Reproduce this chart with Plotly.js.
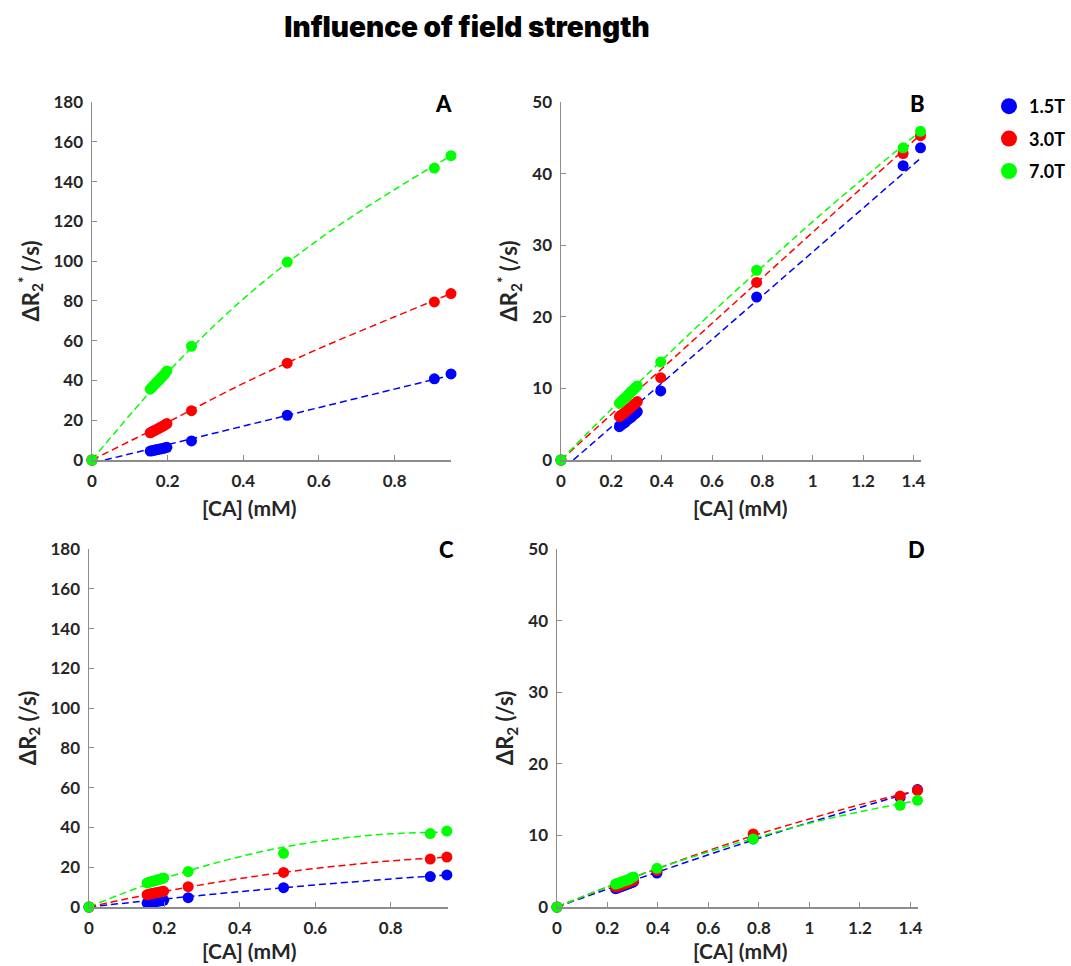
<!DOCTYPE html>
<html>
<head>
<meta charset="utf-8">
<script src="https://cdn.plot.ly/plotly-3.0.1.min.js"></script>
<style>html,body{margin:0;padding:0;background:#fff;}#chart{width:1071px;height:966px;}</style>
</head>
<body>
<div id="chart"></div>
<script>
// ---- data ----
const seriesNames = ['1.5T', '3.0T', '7.0T'];
const seriesColors = ['#0000ff', '#ff0000', '#00ff00'];

// concentrations, panels A and C
const caAC = [0, 0.154, 0.159, 0.164, 0.169, 0.174, 0.179, 0.184, 0.189, 0.194, 0.198, 0.263, 0.516, 0.905, 0.949];
// concentrations, panels B and D
const caBD = [0, 0.232, 0.240, 0.248, 0.256, 0.264, 0.272, 0.280, 0.288, 0.296, 0.303, 0.396, 0.777, 1.359, 1.428];

// Panel A : dR2* (/s)
const A_15 = [0, 4.5, 4.7, 4.9, 5.1, 5.3, 5.5, 5.7, 5.9, 6.2, 6.4, 9.6, 22.5, 40.8, 43.3];
const A_30 = [0, 13.7, 14.2, 14.7, 15.2, 15.7, 16.2, 16.7, 17.2, 17.8, 18.3, 24.8, 48.7, 79.5, 83.7];
const A_70 = [0, 35.6, 36.6, 37.6, 38.6, 39.6, 40.6, 41.6, 42.6, 43.7, 44.8, 57.2, 99.5, 146.8, 153.0];
// Panel B : dR2* (/s)
const B_15 = [0, 4.66, 4.9, 5.1, 5.3, 5.6, 5.8, 6.0, 6.3, 6.5, 6.76, 9.65, 22.75, 41.1, 43.6];
const B_30 = [0, 6.06, 6.3, 6.5, 6.7, 7.0, 7.2, 7.4, 7.7, 7.9, 8.16, 11.5, 24.8, 42.8, 45.3];
const B_70 = [0, 7.93, 8.2, 8.5, 8.7, 9.0, 9.3, 9.6, 9.8, 10.1, 10.35, 13.7, 26.5, 43.6, 45.9];
// Panel C : dR2 (/s)
const C_15 = [0, 2.0, 2.2, 2.3, 2.5, 2.6, 2.8, 2.9, 3.1, 3.2, 3.4, 4.7, 9.7, 15.3, 16.1];
const C_30 = [0, 6.2, 6.4, 6.6, 6.8, 7.0, 7.2, 7.4, 7.6, 7.8, 7.9, 10.2, 17.4, 24.1, 25.1];
const C_70 = [0, 12.1, 12.4, 12.7, 12.9, 13.2, 13.5, 13.8, 14.0, 14.3, 14.6, 17.8, 27.0, 36.9, 38.2];
// Panel D : dR2 (/s)
const D_15 = [0, 2.56, 2.66, 2.77, 2.87, 2.98, 3.08, 3.18, 3.29, 3.39, 3.5, 4.74, 9.5, 15.3, 16.4];
const D_30 = [0, 2.8, 2.9, 3.0, 3.1, 3.2, 3.3, 3.4, 3.5, 3.6, 3.7, 5.1, 10.2, 15.5, 16.3];
const D_70 = [0, 3.2, 3.3, 3.4, 3.5, 3.6, 3.7, 3.8, 3.9, 4.1, 4.2, 5.4, 9.5, 14.2, 14.9];

// fitted (dashed) curves
const fitA_15_x = [0.034, 0.949];
const fitA_15_y = [0, 42.6];
const fitA_x = [0, 0.2, 0.4, 0.6, 0.8, 0.949];
const fitA_30_y = [0, 19.0, 38.5, 56.0, 72.0, 83.7];
const fitA_70_y = [0, 44.0, 81.0, 111.0, 136.0, 153.0];

const fitB_15_x = [0.049, 1.43];
const fitB_15_y = [0, 42.2];
const fitB_30_x = [0, 1.43];
const fitB_30_y = [0, 45.5];
const fitB_x = [0, 0.2, 0.4, 0.6, 0.8, 1.0, 1.2, 1.43];
const fitB_70_y = [0, 7.1, 13.9, 20.6, 27.0, 33.3, 39.3, 46.0];

const fitC_x = [0, 0.1, 0.2, 0.3, 0.4, 0.5, 0.6, 0.7, 0.8, 0.9, 0.949];
const fitC_15_y = [0, 2.05, 4.0, 5.9, 7.7, 9.4, 11.1, 12.6, 14.1, 15.4, 16.1];
const fitC_30_y = [0, 4.1, 7.8, 11.2, 14.3, 17.0, 19.4, 21.4, 23.2, 24.5, 25.1];
const fitC_70_y = [0, 7.6, 14.4, 20.3, 25.3, 29.5, 32.8, 35.2, 36.8, 37.5, 37.5];

const fitD_x = [0, 0.2, 0.4, 0.6, 0.8, 1.0, 1.2, 1.43];
const fitD_15_y = [0, 2.5, 4.9, 7.3, 9.6, 11.8, 13.9, 16.3];
const fitD_30_y = [0, 2.8, 5.4, 7.9, 10.2, 12.3, 14.3, 16.3];
const fitD_70_y = [0, 2.8, 5.4, 7.7, 9.8, 11.7, 13.3, 14.9];

const panelLetters = ['A', 'B', 'C', 'D'];
const xTitle = '[CA] (mM)';
const yTitleTop = 'ΔR<sub>2</sub><sup>*</sup> (/s)';
const yTitleBottom = 'ΔR<sub>2</sub> (/s)';
const chartTitle = 'Influence of field strength';

// ---- build traces ----
const FONT = 'Lato, "Open Sans", "DejaVu Sans", sans-serif';
const TFONT = 'Inter, Lato, "Open Sans", sans-serif';
const traces = [];
function fitTrace(xa, ya, x, y, ci) {
  traces.push({
    type: 'scatter', mode: 'lines', x: x, y: y, xaxis: xa, yaxis: ya,
    line: {color: seriesColors[ci], width: 1.5, dash: '7px,4px', shape: x.length > 2 ? 'spline' : 'linear'},
    showlegend: false, hoverinfo: 'skip'
  });
}
function dotTrace(xa, ya, x, y, ci) {
  traces.push({
    type: 'scatter', mode: 'markers', x: x, y: y, xaxis: xa, yaxis: ya,
    marker: {color: seriesColors[ci], size: 11, line: {width: 0}},
    cliponaxis: false, showlegend: false
  });
}
fitTrace('x', 'y', fitA_15_x, fitA_15_y, 0);
fitTrace('x', 'y', fitA_x, fitA_30_y, 1);
fitTrace('x', 'y', fitA_x, fitA_70_y, 2);
fitTrace('x2', 'y2', fitB_15_x, fitB_15_y, 0);
fitTrace('x2', 'y2', fitB_30_x, fitB_30_y, 1);
fitTrace('x2', 'y2', fitB_x, fitB_70_y, 2);
fitTrace('x3', 'y3', fitC_x, fitC_15_y, 0);
fitTrace('x3', 'y3', fitC_x, fitC_30_y, 1);
fitTrace('x3', 'y3', fitC_x, fitC_70_y, 2);
fitTrace('x4', 'y4', fitD_x, fitD_15_y, 0);
fitTrace('x4', 'y4', fitD_x, fitD_30_y, 1);
fitTrace('x4', 'y4', fitD_x, fitD_70_y, 2);
[[A_15, A_30, A_70, 'x', 'y', caAC], [B_15, B_30, B_70, 'x2', 'y2', caBD],
 [C_15, C_30, C_70, 'x3', 'y3', caAC], [D_15, D_30, D_70, 'x4', 'y4', caBD]].forEach(p => {
  for (let i = 0; i < 3; i++) dotTrace(p[3], p[4], p[5], p[i], i);
});
for (let i = 0; i < 3; i++) {
  traces.push({
    type: 'scatter', mode: 'markers', x: [null], y: [null], xaxis: 'x', yaxis: 'y',
    name: seriesNames[i], legendgroup: 'g' + i,
    marker: {color: seriesColors[i], size: 16}, showlegend: true
  });
}

// ---- layout ----
const W = 1071, H = 966;
function dx(a, b) { return [a / W, b / W]; }
function dy(top, bottom) { return [1 - bottom / H, 1 - top / H]; }
const AXC = '#8c8c8c';
const TXT = '#262626';
function xax(dom, range, anchor) {
  return {
    domain: dom, range: range, anchor: anchor, dtick: 0.2, tick0: 0,
    showgrid: false, zeroline: false, showline: true, linecolor: AXC, linewidth: 1.5,
    ticks: 'inside', ticklen: 5, tickcolor: AXC, tickwidth: 1,
    tickfont: {family: FONT, size: 17, color: TXT, weight: 'bold'},
    ticklabelstandoff: 5,
    automargin: false
  };
}
function yax(dom, range, dtick, anchor, title) {
  return {
    domain: dom, range: range, anchor: anchor, dtick: dtick, tick0: 0,
    showgrid: false, zeroline: false, showline: true, linecolor: AXC, linewidth: 1.5,
    ticks: 'inside', ticklen: 5, tickcolor: AXC, tickwidth: 1,
    tickfont: {family: FONT, size: 17, color: TXT, weight: 'bold'},
    ticklabelstandoff: 4,
    title: {text: title, font: {family: FONT, size: 22, color: TXT, weight: 'bold'}, standoff: 8},
    automargin: false
  };
}

const annBase = {xref: 'paper', yref: 'paper', xanchor: 'center', yanchor: 'middle', showarrow: false};
const letterPos = [[443, 103], [917, 103], [446, 549], [916, 549]];
const xTitlePos = [[249, 508], [740, 508], [249, 950], [740, 950]];
const annotations = [];
panelLetters.forEach((t, i) => annotations.push(Object.assign({}, annBase, {
  text: t, x: letterPos[i][0] / W, y: 1 - letterPos[i][1] / H,
  font: {family: FONT, size: 22, color: '#000000', weight: 900}
})));
xTitlePos.forEach(p => annotations.push(Object.assign({}, annBase, {
  text: xTitle, x: p[0] / W, y: 1 - p[1] / H,
  font: {family: FONT, size: 21, color: TXT, weight: 'bold'}
})));

const layout = {
  width: W, height: H,
  margin: {l: 0, r: 0, t: 0, b: 0},
  paper_bgcolor: '#ffffff', plot_bgcolor: '#ffffff',
  title: {
    text: chartTitle,
    font: {family: TFONT, size: 28, color: '#000000', weight: 900},
    x: 467 / W, xanchor: 'center', xref: 'paper',
    y: 1 - 27 / H, yanchor: 'middle', yref: 'container'
  },
  xaxis: xax(dx(92, 451), [0, 0.949], 'y'),
  yaxis: yax(dy(102, 460), [0, 180], 20, 'x', yTitleTop),
  xaxis2: xax(dx(561, 921), [0, 1.43], 'y2'),
  yaxis2: yax(dy(102, 460), [0, 50], 10, 'x2', yTitleTop),
  xaxis3: xax(dx(89, 448), [0, 0.952], 'y3'),
  yaxis3: yax(dy(549, 907), [0, 180], 20, 'x3', yTitleBottom),
  xaxis4: xax(dx(557, 918), [0, 1.43], 'y4'),
  yaxis4: yax(dy(549, 907), [0, 50], 10, 'x4', yTitleBottom),
  showlegend: true,
  legend: {
    x: 1, y: 1 - 88 / H, xanchor: 'right', yanchor: 'top',
    font: {family: FONT, size: 18, color: '#000000', weight: 'bold'},
    bgcolor: 'rgba(0,0,0,0)', borderwidth: 0, traceorder: 'grouped', tracegroupgap: 6,
    itemwidth: 30
  },
  annotations: annotations
};

Plotly.newPlot('chart', traces, layout, {displayModeBar: false, staticPlot: true});
</script>
</body>
</html>
